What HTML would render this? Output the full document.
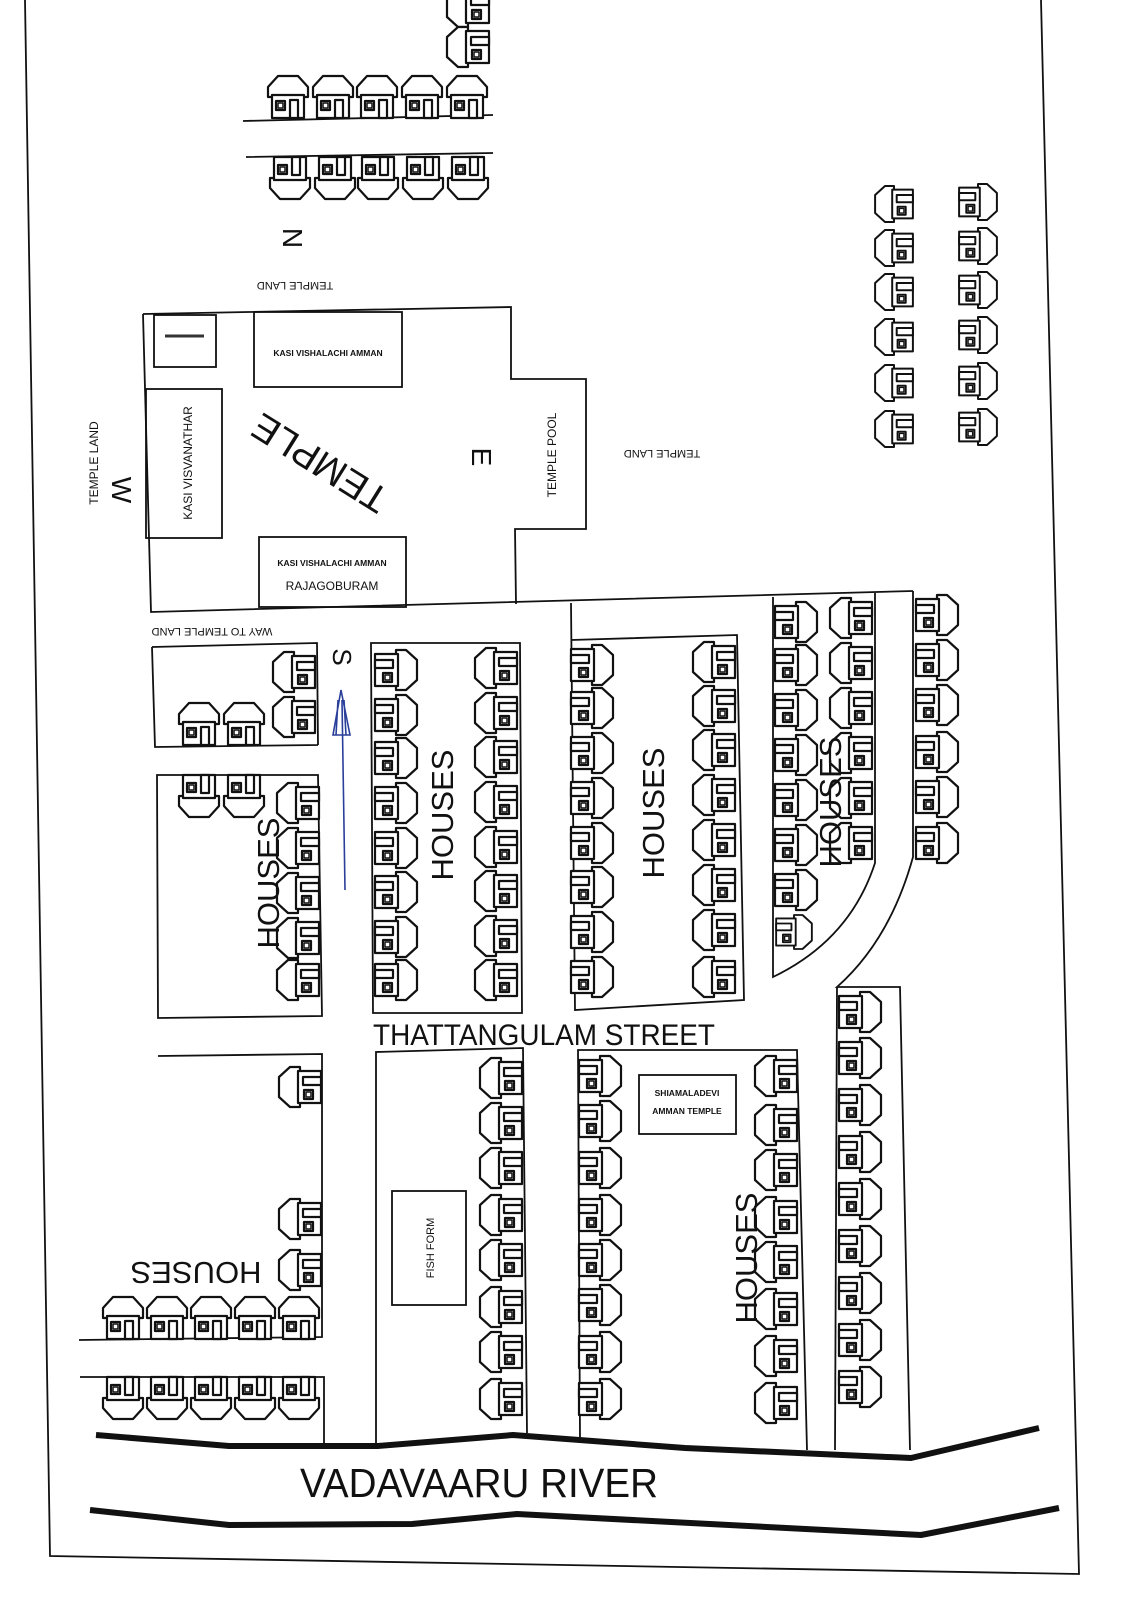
<!DOCTYPE html>
<html><head><meta charset="utf-8"><style>
html,body{margin:0;padding:0;background:#fff;}
svg{display:block;}
text{font-family:"Liberation Sans",sans-serif;fill:#111;}
</style></head><body>
<svg width="1121" height="1600" viewBox="0 0 1121 1600" xmlns="http://www.w3.org/2000/svg">
<defs>
<g id="h" fill="#fff" stroke="#111" stroke-width="2.2" stroke-linejoin="round">
<polygon points="-20,0 -20,-10 -10,-21 10,-21 20,-10 20,0"/>
<rect x="-16" y="-2" width="32" height="23"/>
<rect x="-12" y="4" width="9" height="9"/>
<rect x="-10" y="6" width="5" height="5" stroke-width="1.5"/>
<rect x="2" y="3" width="8" height="18"/>
</g>
</defs>
<rect width="1121" height="1600" fill="#fff"/>
<g fill="none" stroke="#111" stroke-width="1.8">
<path d="M25,0 Q35,800 50,1556 L1079,1574 L1041,0"/>
<path d="M243,121 L493,115 M246,157 L493,153"/>
<path d="M143,314 L511,307 L511,379 L586,379 L586,529 L515,529 L516,604"/>
<path d="M143,314 L151,612 L913,591"/>
<rect x="154" y="315" width="62" height="52"/>
<rect x="254" y="312" width="148" height="75"/>
<rect x="146" y="389" width="76" height="149"/>
<rect x="259" y="537" width="147" height="70"/>
<path d="M152,647 L317,643 L318,745 M152,647 L155,747 L318,745"/>
<path d="M157,775 L318,775 L322,1016 L158,1018 Z"/>
<path d="M371,643 L520,643 L522,1013 L373,1013 Z"/>
<path d="M571,603 L575,1010 L744,1000 L737,635 L571,640"/>
<path d="M773,597 L773,977 Q850,940 875,863 L875,593"/>
<path d="M913,591 L913,857 Q890,940 837,987 L900,987 L910,1450 M837,987 L835,1450"/>
<path d="M158,1056 L322,1054 L322,1337 L79,1340 M80,1377 L324,1377 L324,1445"/>
<path d="M376,1443 L376,1052 L523,1048 L527,1433"/>
<rect x="392" y="1191" width="74" height="114"/>
<path d="M580,1440 L578,1050 L797,1050 L807,1450"/>
<rect x="639" y="1075" width="97" height="59"/>
</g>
<line x1="165" y1="336" x2="204" y2="336" stroke="#333" stroke-width="3"/>
<g fill="none" stroke="#111" stroke-width="6" stroke-linejoin="round">
<polyline points="96,1435 229,1446 378,1446 513,1435 685,1448 911,1458 1039,1428"/>
<polyline points="90,1510 229,1525 412,1524 517,1514 921,1535 1059,1508"/>
</g>
<g stroke="#2a3f9a" stroke-width="1.6" fill="none">
<path d="M345,890 L342,700"/>
<path d="M341,690 L333,735 L350,735 Z M338,700 L336,735 M344,700 L346,735"/>
</g>
<g>
<use href="#h" transform="translate(468,7) rotate(-90)"/>
<use href="#h" transform="translate(468,47) rotate(-90)"/>
<use href="#h" transform="translate(288,97)"/><use href="#h" transform="translate(333,97)"/><use href="#h" transform="translate(377,97)"/><use href="#h" transform="translate(422,97)"/><use href="#h" transform="translate(467,97)"/>
<use href="#h" transform="translate(290,178) scale(1,-1)"/><use href="#h" transform="translate(335,178) scale(1,-1)"/><use href="#h" transform="translate(378,178) scale(1,-1)"/><use href="#h" transform="translate(423,178) scale(1,-1)"/><use href="#h" transform="translate(468,178) scale(1,-1)"/>
<use href="#h" transform="translate(894,204) rotate(-90) scale(0.9)"/><use href="#h" transform="translate(894,248) rotate(-90) scale(0.9)"/><use href="#h" transform="translate(894,292) rotate(-90) scale(0.9)"/><use href="#h" transform="translate(894,337) rotate(-90) scale(0.9)"/><use href="#h" transform="translate(894,383) rotate(-90) scale(0.9)"/><use href="#h" transform="translate(894,429) rotate(-90) scale(0.9)"/>
<use href="#h" transform="translate(978,202) rotate(90) scale(-0.9,0.9)"/><use href="#h" transform="translate(978,246) rotate(90) scale(-0.9,0.9)"/><use href="#h" transform="translate(978,290) rotate(90) scale(-0.9,0.9)"/><use href="#h" transform="translate(978,335) rotate(90) scale(-0.9,0.9)"/><use href="#h" transform="translate(978,381) rotate(90) scale(-0.9,0.9)"/><use href="#h" transform="translate(978,427) rotate(90) scale(-0.9,0.9)"/>
<use href="#h" transform="translate(294,672) rotate(-90)"/><use href="#h" transform="translate(294,717) rotate(-90)"/>
<use href="#h" transform="translate(199,724)"/><use href="#h" transform="translate(244,724)"/>
<use href="#h" transform="translate(199,796) scale(1,-1)"/><use href="#h" transform="translate(244,796) scale(1,-1)"/>
<use href="#h" transform="translate(298,803) rotate(-90)"/><use href="#h" transform="translate(298,848) rotate(-90)"/><use href="#h" transform="translate(298,893) rotate(-90)"/><use href="#h" transform="translate(298,938) rotate(-90)"/><use href="#h" transform="translate(298,980) rotate(-90)"/>
<use href="#h" transform="translate(396,670) rotate(90) scale(-1,1)"/><use href="#h" transform="translate(396,715) rotate(90) scale(-1,1)"/><use href="#h" transform="translate(396,758) rotate(90) scale(-1,1)"/><use href="#h" transform="translate(396,803) rotate(90) scale(-1,1)"/><use href="#h" transform="translate(396,848) rotate(90) scale(-1,1)"/><use href="#h" transform="translate(396,892) rotate(90) scale(-1,1)"/><use href="#h" transform="translate(396,937) rotate(90) scale(-1,1)"/><use href="#h" transform="translate(396,980) rotate(90) scale(-1,1)"/>
<use href="#h" transform="translate(496,668) rotate(-90)"/><use href="#h" transform="translate(496,713) rotate(-90)"/><use href="#h" transform="translate(496,757) rotate(-90)"/><use href="#h" transform="translate(496,802) rotate(-90)"/><use href="#h" transform="translate(496,847) rotate(-90)"/><use href="#h" transform="translate(496,891) rotate(-90)"/><use href="#h" transform="translate(496,936) rotate(-90)"/><use href="#h" transform="translate(496,980) rotate(-90)"/>
<use href="#h" transform="translate(592,665) rotate(90) scale(-1,1)"/><use href="#h" transform="translate(592,708) rotate(90) scale(-1,1)"/><use href="#h" transform="translate(592,753) rotate(90) scale(-1,1)"/><use href="#h" transform="translate(592,798) rotate(90) scale(-1,1)"/><use href="#h" transform="translate(592,843) rotate(90) scale(-1,1)"/><use href="#h" transform="translate(592,887) rotate(90) scale(-1,1)"/><use href="#h" transform="translate(592,932) rotate(90) scale(-1,1)"/><use href="#h" transform="translate(592,977) rotate(90) scale(-1,1)"/>
<use href="#h" transform="translate(714,662) rotate(-90)"/><use href="#h" transform="translate(714,706) rotate(-90)"/><use href="#h" transform="translate(714,750) rotate(-90)"/><use href="#h" transform="translate(714,795) rotate(-90)"/><use href="#h" transform="translate(714,840) rotate(-90)"/><use href="#h" transform="translate(714,885) rotate(-90)"/><use href="#h" transform="translate(714,930) rotate(-90)"/><use href="#h" transform="translate(714,977) rotate(-90)"/>
<use href="#h" transform="translate(796,622) rotate(90) scale(-1,1)"/><use href="#h" transform="translate(796,665) rotate(90) scale(-1,1)"/><use href="#h" transform="translate(796,710) rotate(90) scale(-1,1)"/><use href="#h" transform="translate(796,755) rotate(90) scale(-1,1)"/><use href="#h" transform="translate(796,800) rotate(90) scale(-1,1)"/><use href="#h" transform="translate(796,845) rotate(90) scale(-1,1)"/><use href="#h" transform="translate(796,890) rotate(90) scale(-1,1)"/><use href="#h" transform="translate(794,932) rotate(90) scale(-0.85,0.85)"/>
<use href="#h" transform="translate(851,618) rotate(-90)"/><use href="#h" transform="translate(851,663) rotate(-90)"/><use href="#h" transform="translate(851,708) rotate(-90)"/><use href="#h" transform="translate(851,753) rotate(-90)"/><use href="#h" transform="translate(851,798) rotate(-90)"/><use href="#h" transform="translate(851,843) rotate(-90)"/>
<use href="#h" transform="translate(937,615) rotate(90) scale(-1,1)"/><use href="#h" transform="translate(937,660) rotate(90) scale(-1,1)"/><use href="#h" transform="translate(937,705) rotate(90) scale(-1,1)"/><use href="#h" transform="translate(937,752) rotate(90) scale(-1,1)"/><use href="#h" transform="translate(937,797) rotate(90) scale(-1,1)"/><use href="#h" transform="translate(937,843) rotate(90) scale(-1,1)"/>
<use href="#h" transform="translate(300,1087) rotate(-90)"/><use href="#h" transform="translate(300,1219) rotate(-90)"/><use href="#h" transform="translate(300,1270) rotate(-90)"/>
<use href="#h" transform="translate(123,1318)"/><use href="#h" transform="translate(167,1318)"/><use href="#h" transform="translate(211,1318)"/><use href="#h" transform="translate(255,1318)"/><use href="#h" transform="translate(299,1318)"/>
<use href="#h" transform="translate(123,1398) scale(1,-1)"/><use href="#h" transform="translate(167,1398) scale(1,-1)"/><use href="#h" transform="translate(211,1398) scale(1,-1)"/><use href="#h" transform="translate(255,1398) scale(1,-1)"/><use href="#h" transform="translate(299,1398) scale(1,-1)"/>
<use href="#h" transform="translate(501,1078) rotate(-90)"/><use href="#h" transform="translate(501,1123) rotate(-90)"/><use href="#h" transform="translate(501,1168) rotate(-90)"/><use href="#h" transform="translate(501,1215) rotate(-90)"/><use href="#h" transform="translate(501,1260) rotate(-90)"/><use href="#h" transform="translate(501,1307) rotate(-90)"/><use href="#h" transform="translate(501,1352) rotate(-90)"/><use href="#h" transform="translate(501,1399) rotate(-90)"/>
<use href="#h" transform="translate(600,1076) rotate(90) scale(-1,1)"/><use href="#h" transform="translate(600,1121) rotate(90) scale(-1,1)"/><use href="#h" transform="translate(600,1168) rotate(90) scale(-1,1)"/><use href="#h" transform="translate(600,1215) rotate(90) scale(-1,1)"/><use href="#h" transform="translate(600,1260) rotate(90) scale(-1,1)"/><use href="#h" transform="translate(600,1305) rotate(90) scale(-1,1)"/><use href="#h" transform="translate(600,1352) rotate(90) scale(-1,1)"/><use href="#h" transform="translate(600,1399) rotate(90) scale(-1,1)"/>
<use href="#h" transform="translate(776,1076) rotate(-90)"/><use href="#h" transform="translate(776,1125) rotate(-90)"/><use href="#h" transform="translate(776,1170) rotate(-90)"/><use href="#h" transform="translate(776,1217) rotate(-90)"/><use href="#h" transform="translate(776,1262) rotate(-90)"/><use href="#h" transform="translate(776,1309) rotate(-90)"/><use href="#h" transform="translate(776,1356) rotate(-90)"/><use href="#h" transform="translate(776,1403) rotate(-90)"/>
<use href="#h" transform="translate(860,1012) rotate(90) scale(-1,1)"/><use href="#h" transform="translate(860,1058) rotate(90) scale(-1,1)"/><use href="#h" transform="translate(860,1105) rotate(90) scale(-1,1)"/><use href="#h" transform="translate(860,1152) rotate(90) scale(-1,1)"/><use href="#h" transform="translate(860,1199) rotate(90) scale(-1,1)"/><use href="#h" transform="translate(860,1246) rotate(90) scale(-1,1)"/><use href="#h" transform="translate(860,1293) rotate(90) scale(-1,1)"/><use href="#h" transform="translate(860,1340) rotate(90) scale(-1,1)"/><use href="#h" transform="translate(860,1387) rotate(90) scale(-1,1)"/>
</g>
<text x="295" y="290" font-size="11" text-anchor="middle" transform="rotate(180 295 286)">TEMPLE LAND</text>
<text x="293" y="248" font-size="28" text-anchor="middle" transform="rotate(90 293 238)">N</text>
<text x="662" y="458" font-size="11" text-anchor="middle" transform="rotate(180 662 454)">TEMPLE LAND</text>
<text x="328" y="356" font-size="8.5" font-weight="bold" text-anchor="middle">KASI VISHALACHI AMMAN</text>
<text x="188" y="467" font-size="12" text-anchor="middle" transform="rotate(-90 188 463)">KASI VISVANATHAR</text>
<text x="332" y="566" font-size="8.5" font-weight="bold" text-anchor="middle">KASI VISHALACHI AMMAN</text>
<text x="332" y="590" font-size="12" text-anchor="middle">RAJAGOBURAM</text>
<text x="320" y="476" font-size="38" text-anchor="middle" transform="rotate(212 320 463)">TEMPLE</text>
<text x="482" y="467" font-size="28" text-anchor="middle" transform="rotate(90 482 457)">E</text>
<text x="122" y="500" font-size="28" text-anchor="middle" transform="rotate(90 122 490)">W</text>
<text x="94" y="467" font-size="12" text-anchor="middle" transform="rotate(-90 94 463)">TEMPLE LAND</text>
<text x="552" y="459" font-size="12" text-anchor="middle" transform="rotate(-90 552 455)">TEMPLE POOL</text>
<text x="212" y="636" font-size="11" text-anchor="middle" transform="rotate(180 212 632)">WAY TO TEMPLE LAND</text>
<text x="342" y="666" font-size="26" text-anchor="middle" transform="rotate(90 342 657)">S</text>
<text x="268" y="894" font-size="31" text-anchor="middle" transform="rotate(-90 268 883)">HOUSES</text>
<text x="442" y="826" font-size="31" text-anchor="middle" transform="rotate(-90 442 815)">HOUSES</text>
<text x="653" y="824" font-size="31" text-anchor="middle" transform="rotate(-90 653 813)">HOUSES</text>
<text x="830" y="813" font-size="31" text-anchor="middle" transform="rotate(-90 830 802)">HOUSES</text>
<text x="746" y="1269" font-size="31" text-anchor="middle" transform="rotate(-90 746 1258)">HOUSES</text>
<text x="196" y="1284" font-size="31" text-anchor="middle" transform="rotate(180 196 1273)">HOUSES</text>
<text x="373" y="1045" font-size="30" textLength="342" lengthAdjust="spacingAndGlyphs">THATTANGULAM  STREET</text>
<text x="430" y="1252" font-size="11" text-anchor="middle" transform="rotate(-90 430 1248)">FISH FORM</text>
<text x="687" y="1096" font-size="8.5" font-weight="bold" text-anchor="middle">SHIAMALADEVI</text>
<text x="687" y="1114" font-size="8.5" font-weight="bold" text-anchor="middle">AMMAN TEMPLE</text>
<text x="300" y="1497" font-size="41" textLength="358" lengthAdjust="spacingAndGlyphs">VADAVAARU  RIVER</text>
</svg>
</body></html>
